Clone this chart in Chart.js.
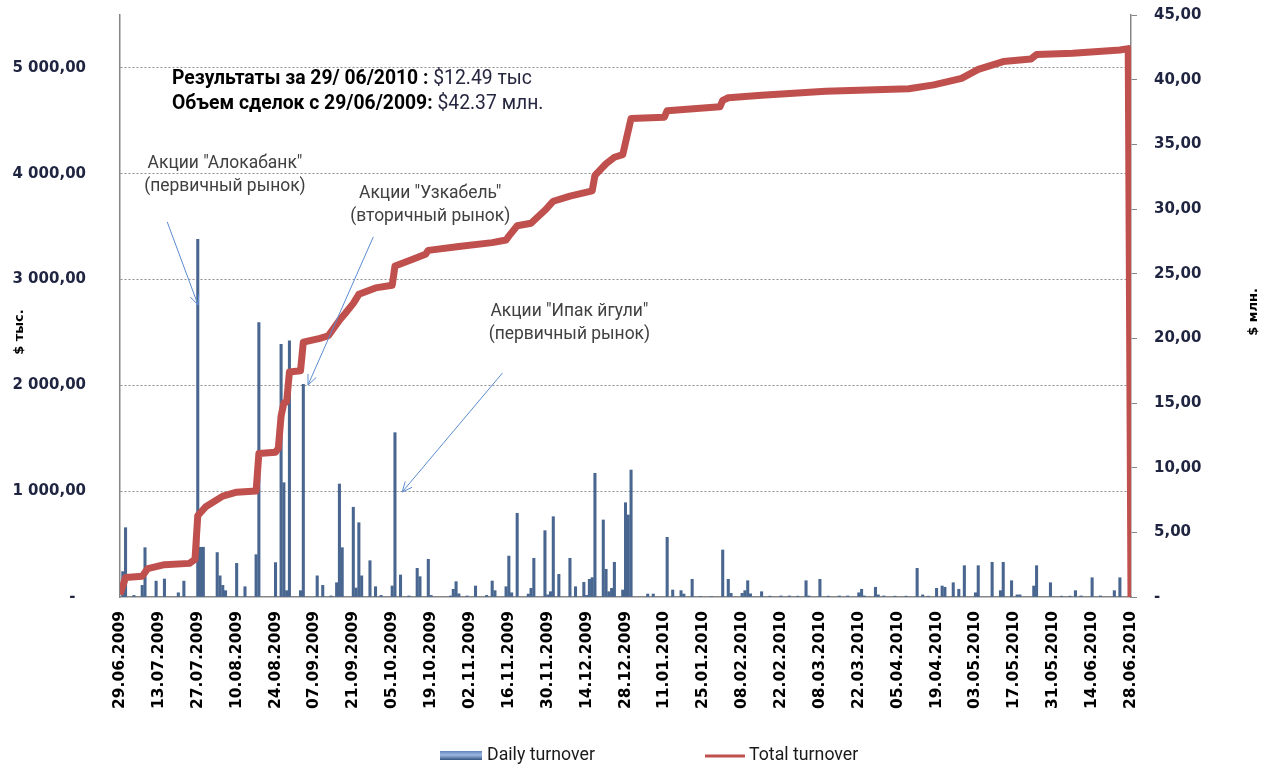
<!DOCTYPE html>
<html>
<head>
<meta charset="utf-8">
<script src="https://cdn.jsdelivr.net/npm/chart.js@4.4.0/dist/chart.umd.min.js"></script>
<style>
  html, body { margin: 0; padding: 0; background: #fff; }
  #wrap { width: 1263px; height: 766px; }
</style>
</head>
<body>
<div id="wrap"><canvas id="chart" width="1263" height="766"></canvas></div>
<script>
// ─────────────────────────────────────────────────────────
//  Daily / total turnover, 29.06.2009 – 28.06.2010
//  x = day offset from 29.06.2009
// ─────────────────────────────────────────────────────────

const tickLabels = ['29.06.2009','13.07.2009','27.07.2009','10.08.2009','24.08.2009','07.09.2009','21.09.2009',
  '05.10.2009','19.10.2009','02.11.2009','16.11.2009','30.11.2009','14.12.2009','28.12.2009','11.01.2010',
  '25.01.2010','08.02.2010','22.02.2010','08.03.2010','22.03.2010','05.04.2010','19.04.2010','03.05.2010',
  '17.05.2010','31.05.2010','14.06.2010','28.06.2010'];
const leftTicks = [0, 1000, 2000, 3000, 4000, 5000];

// Daily turnover, $ thousand
const barDays = [1,2,5,8,9,13,16,21,23,28,29,30,35,36,37,38,42,45,49,50,56,58,59,60,61,65,66,71,73,76,78,79,80,
  84,85,86,87,90,92,94,98,99,101,104,107,108,111,112,119,120,121,122,125,128,132,134,135,139,140,141,143,147,148,
  149,153,154,155,156,158,162,164,167,168,169,170,171,174,175,176,177,178,181,182,183,184,190,192,197,199,202,203,
  206,209,213,217,219,220,224,225,226,227,231,234,238,241,244,247,248,252,255,259,262,266,267,268,272,273,275,279,
  283,287,289,291,294,296,297,300,302,304,308,309,314,317,318,321,323,324,329,330,335,339,342,344,346,350,353,358,
  360,364];
const barValues = [240,655,15,110,466,150,170,40,150,3380,470,470,420,200,110,60,318,97,400,2593,325,2388,1080,60,
  2420,60,2010,200,110,10,135,1068,466,848,85,702,200,343,97,15,104,1553,208,10,271,192,356,15,10,73,145,30,10,104,
  15,151,60,97,387,40,791,28,82,366,627,20,50,759,214,366,97,139,15,167,183,1169,728,262,50,82,328,66,891,775,1200,
  28,28,564,66,60,28,167,5,5,444,167,35,35,60,154,30,50,8,10,10,8,154,10,167,8,10,10,40,73,10,92,20,10,8,8,271,20,
  8,82,104,92,135,73,296,40,296,328,60,328,154,20,20,104,296,135,8,8,60,10,182,10,60,182,12.49];

// Total turnover, $ million
const totalDays = [0,2,8,10,16,25,27,28,31,37,42,49,50,56,57,58,59,60,61,65,66,72,75,79,81,84,86,92,98,99,104,110,
  111,122,134,139,140,143,148,150,153,156,162,170,171,175,178,181,184,196,197,216,217,219,231,254,284,293,303,309,
  318,328,330,343,360,363,364];
const totalValues = [0.2,1.5,1.6,2.2,2.5,2.6,2.9,6.3,7.0,7.8,8.1,8.2,11.1,11.2,11.5,14.0,15.0,15.1,17.4,17.5,19.7,
  20.0,20.2,21.4,21.9,22.7,23.4,23.9,24.1,25.6,26.0,26.5,26.8,27.1,27.4,27.6,27.9,28.7,28.9,29.3,29.9,30.6,31.0,
  31.4,32.6,33.5,34.0,34.2,37.0,37.1,37.6,37.9,38.4,38.6,38.8,39.1,39.3,39.6,40.1,40.8,41.4,41.6,41.95,42.05,42.3,
  42.4,0];

// ── helpers ─────────────────────────────────────────────
const yFont = { family: "'DejaVu Sans', sans-serif", size: 15, weight: 'bold' };
const xFont = { family: "'DejaVu Sans', sans-serif", size: 15.5, weight: 'bold' };
const textFamily = "Roboto, 'Liberation Sans', sans-serif";

function fmtThousands(v) {
  const [i, d] = v.toFixed(2).split('.');
  return i.replace(/\B(?=(\d{3})+(?!\d))/g, ' ') + ',' + d;
}

function partsWidth(ctx, parts, size) {
  let w = 0;
  parts.forEach(p => { ctx.font = `${p[1]} ${size}px ${textFamily}`; w += ctx.measureText(p[0]).width; });
  return w;
}

function drawParts(ctx, parts, size, x, y, align) {
  let cx = align === 'center' ? x - partsWidth(ctx, parts, size) / 2 : x;
  ctx.textAlign = 'left';
  ctx.textBaseline = 'middle';
  parts.forEach(p => {
    ctx.font = `${p[1]} ${size}px ${textFamily}`;
    ctx.fillStyle = p[2];
    ctx.fillText(p[0], cx, y);
    cx += ctx.measureText(p[0]).width;
  });
}

function arrow(ctx, x1, y1, x2, y2) {
  const a = Math.atan2(y2 - y1, x2 - x1), L = 11, s = 0.42;
  ctx.beginPath();
  ctx.moveTo(x1, y1); ctx.lineTo(x2, y2);
  ctx.moveTo(x2 - L * Math.cos(a - s), y2 - L * Math.sin(a - s));
  ctx.lineTo(x2, y2);
  ctx.lineTo(x2 - L * Math.cos(a + s), y2 - L * Math.sin(a + s));
  ctx.stroke();
}

// no label-overflow padding, so the plot area keeps its own bounds
const noPad = s => { s.paddingTop = 0; s.paddingBottom = 0; s.paddingLeft = 0; s.paddingRight = 0; };

// callouts placed in data space (day, $ thousand)
const notes = [
  { text: ['Акции "Алокабанк"', '(первичный рынок)'], at: [37.8, 4100], from: [17, 3545], to: [28.1, 2760] },
  { text: ['Акции "Узкабель"', '(вторичный рынок)'], at: [111.7, 3810], from: [91.2, 3403], to: [67.7, 2004] },
  { text: ['Акции "Ипак йгули"', '(первичный рынок)'], at: [161.8, 2694], from: [137.7, 2117], to: [101.6, 992] }
];

// ── overlay: header, callouts, axis titles, legend ──────
const overlay = {
  id: 'overlay',
  afterDraw(chart) {
    const { ctx, scales: { x, y } } = chart;
    const px = d => x.getPixelForValue(d);
    const py = v => y.getPixelForValue(v);
    ctx.save();

    // header
    const h1 = [['Результаты за 29/ 06/2010 : ', 'bold', '#000'], ['$12.49 тыс', 'normal', '#262640']];
    const h2 = [['Объем сделок с 29/06/2009: ', 'bold', '#000'], ['$42.37 млн.', 'normal', '#262640']];
    const hs = 20 * 360 / partsWidth(ctx, h1, 20);
    drawParts(ctx, h1, hs, 172, 79, 'left');
    drawParts(ctx, h2, hs, 172, 104, 'left');

    // callouts
    const ns = 20 * 155 / partsWidth(ctx, [[notes[0].text[0], 'normal']], 20);
    ctx.strokeStyle = '#5B8BD0';
    ctx.lineWidth = 1;
    notes.forEach(n => {
      drawParts(ctx, [[n.text[0], 'normal', '#404040']], ns, px(n.at[0]), py(n.at[1]), 'center');
      drawParts(ctx, [[n.text[1], 'normal', '#404040']], ns, px(n.at[0]), py(n.at[1]) + 23, 'center');
      arrow(ctx, px(n.from[0]), py(n.from[1]), px(n.to[0]), py(n.to[1]));
    });

    // axis titles (rotated, read bottom to top)
    ctx.fillStyle = '#000';
    ctx.font = "bold 13px 'DejaVu Sans', sans-serif";
    ctx.textAlign = 'center';
    ctx.textBaseline = 'middle';
    [['$ тыс.', 20, 332], ['$ млн.', 1254, 312]].forEach(t => {
      ctx.save();
      ctx.translate(t[1], t[2]);
      ctx.rotate(-Math.PI / 2);
      ctx.fillText(t[0], 0, 0);
      ctx.restore();
    });

    // legend
    const g = ctx.createLinearGradient(0, 751, 0, 760);
    g.addColorStop(0, '#5E84BC');
    g.addColorStop(0.45, '#9DB9E2');
    g.addColorStop(1, '#355583');
    ctx.fillStyle = g;
    ctx.fillRect(440, 751, 42, 9);
    ctx.strokeStyle = '#C0504D';
    ctx.lineWidth = 3;
    ctx.beginPath(); ctx.moveTo(705, 756); ctx.lineTo(745, 756); ctx.stroke();
    const ls = 20 * 108 / partsWidth(ctx, [['Daily turnover', 'normal']], 20);
    drawParts(ctx, [['Daily turnover', 'normal', '#1a1a1a']], ls, 487, 756, 'left');
    drawParts(ctx, [['Total turnover', 'normal', '#1a1a1a']], ls, 749, 756, 'left');

    ctx.restore();
  }
};

// ── chart ───────────────────────────────────────────────
new Chart(document.getElementById('chart'), {
  type: 'bar',
  data: {
    datasets: [
      {
        type: 'line',
        label: 'Total turnover',
        data: totalDays.map((d, i) => ({ x: d, y: totalValues[i] })),
        yAxisID: 'y1',
        borderColor: '#C0504D',
        borderWidth: 7,
        pointRadius: 0,
        tension: 0,
        borderJoinStyle: 'round',
        borderCapStyle: 'butt',
        clip: { left: 0, top: 5, right: 0, bottom: 0 },
        order: 0
      },
      {
        type: 'bar',
        label: 'Daily turnover',
        data: barDays.map((d, i) => ({ x: d, y: barValues[i] })),
        yAxisID: 'y',
        backgroundColor: '#48668F',
        barThickness: 2.4,
        order: 1
      }
    ]
  },
  options: {
    responsive: false,
    animation: false,
    devicePixelRatio: 1,
    layout: { padding: { top: 15, left: 0, right: 0, bottom: 0 } },
    plugins: { legend: { display: false }, tooltip: { enabled: false } },
    scales: {
      x: {
        type: 'linear', min: 0, max: 364, offset: false,
        grid: { display: false, drawTicks: false, offset: false },
        border: { display: true, color: '#868686', width: 1.5 },
        afterBuildTicks: s => { s.ticks = tickLabels.map((_, i) => ({ value: i * 14 })); },
        afterFit: s => { s.height = 169; noPad(s); },
        ticks: {
          autoSkip: false, minRotation: 90, maxRotation: 90, padding: 14,
          color: '#000', font: xFont,
          callback: v => tickLabels[Math.round(v / 14)]
        }
      },
      y: {
        position: 'left', min: 0, max: 5500,
        afterBuildTicks: s => { s.ticks = leftTicks.map(v => ({ value: v })); },
        afterFit: s => { s.width = 120; noPad(s); },
        grid: {
          drawTicks: false, lineWidth: 1,
          color: c => (c.tick && c.tick.value === 0) ? 'rgba(0,0,0,0)' : '#8f8f8f'
        },
        border: { color: '#868686', width: 1.5, dash: [2, 2] },
        ticks: {
          padding: 34, color: '#1f2440', font: yFont,
          callback: v => v === 0 ? '-\u2007' : fmtThousands(v)
        }
      },
      y1: {
        position: 'right', min: 0, max: 45,
        afterFit: s => { s.width = 132; noPad(s); },
        grid: { drawOnChartArea: false, drawTicks: true, tickLength: 6, tickColor: '#868686' },
        border: { color: '#868686', width: 1.5 },
        ticks: {
          stepSize: 5, padding: 17, color: '#1f2440', font: yFont,
          callback: v => v === 0 ? '-' : v.toFixed(2).replace('.', ',')
        }
      }
    }
  },
  plugins: [overlay]
});
</script>
</body>
</html>
